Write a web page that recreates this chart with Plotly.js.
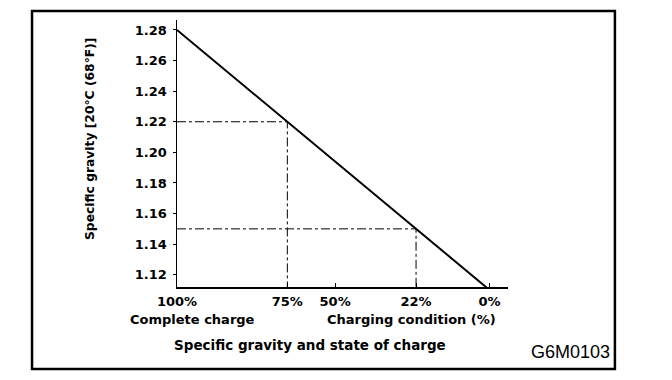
<!DOCTYPE html>
<html>
<head>
<meta charset="utf-8">
<script src="https://cdn.plot.ly/plotly-3.0.1.min.js"></script>
<style>
html,body{margin:0;padding:0;background:#fff;}
#chart{width:672px;height:380px;}
</style>
</head>
<body>
<div id="chart"></div>
<script>
// Data
const chargeLabels = ["100%", "75%", "50%", "22%", "0%"];
const specificGravity = [1.28, 1.22, 1.194, 1.15, 1.11];
const yTickVals = [1.12, 1.14, 1.16, 1.18, 1.20, 1.22, 1.24, 1.26, 1.28];
const yTickText = ["1.12", "1.14", "1.16", "1.18", "1.20", "1.22", "1.24", "1.26", "1.28"];
// guide points (75% and 22%)
const guideLabels = ["75%", "22%"];
const guideValues = [1.22, 1.15];

const FONT = "DejaVu Sans, Verdana, sans-serif";
const xMin = 1.28; // left edge (100%)

const traces = [];
// dash-dot guide lines
guideValues.forEach(v => {
  traces.push({
    x: [xMin, v, v], y: [v, v, 1.112],
    mode: "lines", line: {color: "#000", width: 1, dash: "dashdot"},
    hoverinfo: "skip", showlegend: false
  });
});
// main line
traces.push({
  x: specificGravity, y: specificGravity,
  mode: "lines", line: {color: "#000", width: 2},
  showlegend: false
});

const ann = (text, x, y, extra) => Object.assign({
  text, x, y, xref: "paper", yref: "paper", showarrow: false,
  xanchor: "center", yanchor: "middle",
  font: {family: FONT, size: 13, weight: "bold"}
}, extra || {});

const layout = {
  width: 672, height: 380,
  margin: {l: 177, r: 164, t: 20, b: 93},
  paper_bgcolor: "#fff", plot_bgcolor: "#fff",
  font: {family: FONT, size: 13, color: "#000"},
  xaxis: {
    range: [1.28, 1.10], tickmode: "array",
    tickvals: specificGravity, ticktext: chargeLabels,
    showgrid: false, zeroline: false, showline: true, linecolor: "#000", linewidth: 2,
    ticks: "inside", ticklen: 4, tickcolor: "#000", tickwidth: 1,
    ticklabelstandoff: 1,
    tickfont: {family: FONT, size: 13, weight: "bold"}, fixedrange: true
  },
  yaxis: {
    range: [1.112, 1.2865], tickmode: "array",
    tickvals: yTickVals, ticktext: yTickText,
    showgrid: false, zeroline: false, showline: true, linecolor: "#000", linewidth: 1.5,
    ticks: "outside", ticklen: 3, tickcolor: "#000", tickwidth: 1,
    ticklabelstandoff: 3,
    tickfont: {family: FONT, size: 13, weight: "bold"}, fixedrange: true
  },
  annotations: [
    ann("Specific gravity [20°C (68°F)]", -0.263, 0.554,
        {textangle: -90, font: {family: FONT, size: 12.3, weight: "bold"}}),
    ann("Complete charge", -0.148, -0.12, {xanchor: "left"}),
    ann("Charging condition (%)", 0.447, -0.12, {xanchor: "left"}),
    ann("Specific gravity and state of charge", 0.402, -0.217,
        {font: {family: FONT, size: 13.5, weight: "bold"}}),
    ann("G6M0103", 1.314, -0.243,
        {xanchor: "right", font: {family: "Liberation Sans, Arial, sans-serif", size: 18}})
  ],
  shapes: [
    {type: "rect", xref: "paper", yref: "paper",
     x0: -0.438, x1: 1.323, y0: -0.307, y1: 1.034,
     line: {color: "#000", width: 2.5}}
  ]
};

Plotly.newPlot("chart", traces, layout, {displayModeBar: false, staticPlot: true});
</script>
</body>
</html>
